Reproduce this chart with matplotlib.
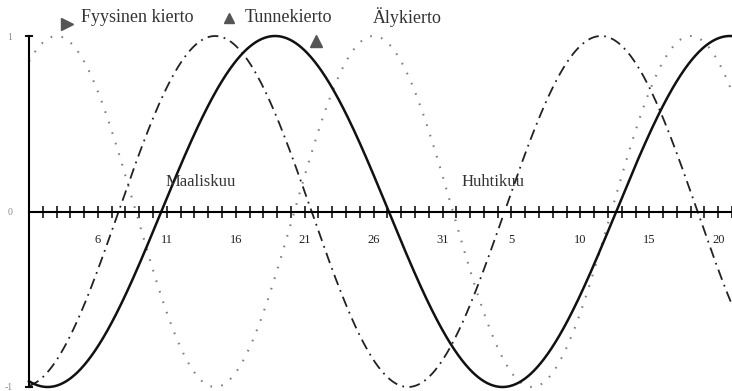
import numpy as np
import matplotlib
matplotlib.use('Agg')
import matplotlib.pyplot as plt

# biorhythm cycles (days from 1 March)
cycle_names = ['Fyysinen kierto', 'Tunnekierto', 'Älykierto']
cycle_periods = [23, 28, 33]
cycle_peak_days = [3.0, 14.5, 18.85]

tick_days = [6, 11, 16, 21, 26, 31, 36, 41, 46, 51]
tick_labels = ['6', '11', '16', '21', '26', '31', '5', '10', '15', '20']
month_names = ['Maaliskuu', 'Huhtikuu']
month_label_days = [10.9, 32.4]

serif = ['Liberation Serif', 'DejaVu Serif']

fig = plt.figure(figsize=(7.32, 3.91), dpi=100)
ax = fig.add_axes([29 / 732, 4 / 391, 1 - 29 / 732, 351 / 391])

days = np.linspace(1, 52.1, 1200)
styles = [
    dict(color='#808080', lw=1.5, ls=(0, (0.8, 4.5))),
    dict(color='#222222', lw=1.3, ls=(0, (6, 3, 1, 3))),
    dict(color='#111111', lw=1.8, ls='-'),
]
for name, per, peak, st in zip(cycle_names, cycle_periods, cycle_peak_days, styles):
    vals = np.cos(2 * np.pi * (days - peak) / per)
    ax.plot(days, vals, clip_on=False, label=name, **st)

ax.set_xlim(1, 52)
ax.set_ylim(-1, 1)

for s in ['top', 'right']:
    ax.spines[s].set_visible(False)
ax.spines['bottom'].set_position(('data', 0))
ax.spines['bottom'].set_linewidth(1.5)
ax.spines['left'].set_linewidth(1.5)

all_days = np.arange(1, 53)
labels = [tick_labels[tick_days.index(d)] if d in tick_days else '' for d in all_days]
ax.set_xticks(all_days)
ax.set_xticklabels(labels, family=serif)
ax.tick_params(axis='x', direction='inout', length=9, width=1.1, pad=12,
               labelsize=9, labelcolor='#222222')

ax.set_yticks([-1, 0, 1])
ax.set_yticklabels(['-1', '0', '1'], family=serif)
ax.tick_params(axis='y', length=0, pad=12, labelsize=7, labelcolor='#888888')
# small caps at the ends of the vertical axis
ax.plot([0.75, 1.25], [1, 1], color='#111111', lw=1.5, clip_on=False)
ax.plot([0.75, 1.25], [-1, -1], color='#111111', lw=1.5, clip_on=False)

for m, d in zip(month_names, month_label_days):
    ax.text(d, 0.12, m, fontsize=12, family=serif, color='#333333',
            ha='left', va='bottom')

# legend row along the top edge
fig.text(81 / 732, 1 - 17 / 391, cycle_names[0], fontsize=13, family=serif,
         color='#333333', va='center')
fig.text(245 / 732, 1 - 17 / 391, cycle_names[1], fontsize=13, family=serif,
         color='#333333', va='center')
fig.text(373 / 732, 1 - 17 / 391, cycle_names[2], fontsize=13, family=serif,
         color='#333333', va='center')
fig.lines.append(plt.Line2D([67 / 732], [1 - 24 / 391], marker='>', ms=8,
                            color='#555555', transform=fig.transFigure))
fig.lines.append(plt.Line2D([229 / 732], [1 - 18 / 391], marker='^', ms=7,
                            color='#555555', transform=fig.transFigure))
fig.lines.append(plt.Line2D([316 / 732], [1 - 41 / 391], marker='^', ms=8,
                            color='#555555', transform=fig.transFigure))

fig.savefig('out.png', dpi=100)
